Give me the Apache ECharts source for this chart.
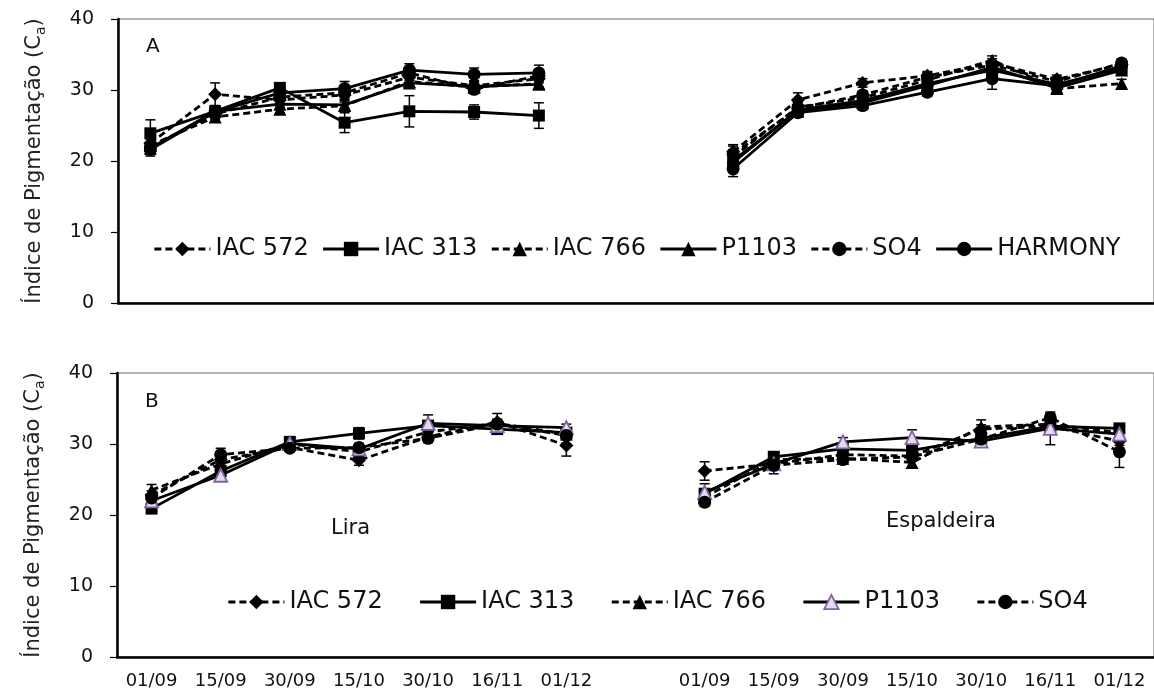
<!DOCTYPE html>
<html>
<head>
<meta charset="utf-8">
<title>Índice de Pigmentação</title>
<script src="https://cdn.jsdelivr.net/npm/echarts@6/dist/echarts.min.js"></script>
<style>
html, body { margin: 0; padding: 0; background: #fff; }
#chart { width: 1154px; height: 691px; }
</style>
</head>
<body>
<div id="chart"></div>
<script>
// datas de avaliação (mesmas para Lira e Espaldeira)
var datas = ['01/09', '15/09', '30/09', '15/10', '30/10', '16/11', '01/12'];
var yTicks = [0, 10, 20, 30, 40];

// ---- A : médias ----
var aLira572 = [22.5, 29.4, 28.6, 29.3, 31.8, 30.6, 31.6];
var aLira313 = [23.9, 27.0, 30.3, 25.4, 27.0, 26.9, 26.4];
var aLira766 = [22.2, 26.2, 27.3, 27.8, 31.2, 30.4, 30.9];
var aLiraP1103 = [21.8, 27.0, 28.0, 27.9, 31.0, 30.5, 30.8];
var aLiraSO4 = [22.0, 26.6, 29.0, 29.6, 32.4, 30.1, 32.0];
var aLiraHarmony = [21.6, 26.9, 29.6, 30.2, 32.8, 32.2, 32.4];

var aEsp572 = [21.3, 28.6, 31.0, 32.0, 33.8, 31.5, 33.6];
var aEsp313 = [19.8, 27.2, 28.5, 30.9, 32.8, 30.8, 33.0];
var aEsp766 = [20.6, 27.6, 28.9, 31.4, 34.2, 30.2, 30.9];
var aEspP1103 = [20.1, 27.0, 28.2, 30.6, 33.2, 30.3, 32.8];
var aEspSO4 = [21.0, 27.4, 29.3, 31.8, 33.5, 31.2, 33.8];
var aEspHarmony = [18.9, 26.8, 27.8, 29.7, 31.6, 30.6, 33.4];

// ---- A : erro padrão ----
var aLira572Err = [0.6, 1.6, 0.5, 0.6, 0.5, 0.6, 0.6];
var aLira313Err = [1.9, 0.8, 0.6, 1.4, 2.2, 1.0, 1.8];
var aLira766Err = [0.5, 0.6, 0.5, 0.5, 0.6, 0.5, 0.5];
var aLiraP1103Err = [0.6, 0.6, 0.5, 0.6, 0.6, 0.5, 0.5];
var aLiraSO4Err = [0.6, 0.7, 0.6, 0.7, 0.6, 0.6, 0.7];
var aLiraHarmonyErr = [0.9, 0.7, 0.5, 1.0, 0.9, 0.9, 1.1];

var aEsp572Err = [0.8, 1.0, 0.6, 0.6, 0.6, 0.6, 0.6];
var aEsp313Err = [0.6, 0.6, 0.5, 0.6, 0.6, 0.5, 0.6];
var aEsp766Err = [0.6, 0.6, 0.6, 0.6, 0.6, 0.6, 0.6];
var aEspP1103Err = [0.6, 0.5, 0.5, 0.5, 0.6, 0.5, 0.6];
var aEspSO4Err = [1.3, 0.6, 0.6, 0.7, 0.6, 0.6, 0.6];
var aEspHarmonyErr = [1.1, 0.6, 0.6, 0.6, 1.5, 0.6, 0.6];

// ---- B : médias ----
var bLira572 = [22.8, 27.8, 29.5, 27.7, 31.0, 33.1, 29.8];
var bLira313 = [20.9, 26.2, 30.3, 31.5, 32.6, 32.1, 31.6];
var bLira766 = [23.5, 27.2, 30.0, 28.9, 31.7, 32.9, 31.4];
var bLiraP1103 = [22.0, 25.6, 30.1, 29.3, 32.9, 32.6, 32.3];
var bLiraSO4 = [22.4, 28.5, 29.4, 29.5, 30.8, 32.8, 31.2];

var bEsp572 = [26.2, 27.2, 28.5, 28.3, 32.1, 32.5, 30.4];
var bEsp313 = [23.0, 28.2, 29.3, 29.1, 30.8, 32.5, 32.2];
var bEsp766 = [22.5, 27.8, 28.0, 27.4, 32.4, 32.8, 31.6];
var bEspP1103 = [23.2, 27.2, 30.3, 30.9, 30.4, 32.2, 31.4];
var bEspSO4 = [21.8, 27.0, 27.8, 28.2, 30.7, 33.7, 28.9];

// ---- B : erro padrão ----
var bLira572Err = [0.6, 0.6, 0.5, 0.7, 0.6, 1.2, 1.5];
var bLira313Err = [0.6, 0.6, 0.5, 0.8, 0.6, 0.6, 0.6];
var bLira766Err = [0.8, 0.6, 0.5, 0.5, 0.6, 0.6, 0.5];
var bLiraP1103Err = [0.6, 0.5, 0.5, 0.6, 1.2, 0.6, 0.5];
var bLiraSO4Err = [0.6, 0.9, 0.5, 0.6, 0.6, 0.6, 0.6];

var bEsp572Err = [1.3, 0.6, 0.6, 0.6, 0.6, 0.6, 0.6];
var bEsp313Err = [0.6, 0.6, 0.6, 0.6, 0.6, 0.6, 0.6];
var bEsp766Err = [0.6, 0.6, 0.6, 0.6, 1.0, 0.6, 0.6];
var bEspP1103Err = [1.2, 0.6, 0.6, 1.1, 0.6, 2.3, 0.6];
var bEspSO4Err = [0.6, 1.2, 0.6, 0.6, 0.6, 0.6, 2.2];

var FONT = "'DejaVu Sans', sans-serif";
var PURPLE = '#8064A2';

// categorias do eixo x: Lira, espaço vazio, Espaldeira
function buildCats(gap) {
  var c = datas.slice();
  for (var i = 0; i < gap; i++) c.push(' '.repeat(i + 1));
  return c.concat(datas);
}
// junta os dois sistemas com nulls no meio (quebra a linha)
function joinVals(lira, esp, gap) {
  var r = lira.slice();
  for (var i = 0; i < gap; i++) r.push(null);
  return r.concat(esp);
}
function errData(vals, errs) {
  var d = [];
  for (var i = 0; i < vals.length; i++) {
    if (vals[i] == null) continue;
    d.push([i, vals[i] - errs[i], vals[i] + errs[i]]);
  }
  return d;
}

function renderErr(params, api) {
  var x = api.value(0);
  var lo = api.coord([x, api.value(1)]);
  var hi = api.coord([x, api.value(2)]);
  var w = 5;
  var st = { stroke: '#000', lineWidth: 1.5 };
  return {
    type: 'group',
    children: [
      { type: 'line', shape: { x1: lo[0], y1: lo[1], x2: hi[0], y2: hi[1] }, style: st },
      { type: 'line', shape: { x1: hi[0] - w, y1: hi[1], x2: hi[0] + w, y2: hi[1] }, style: st },
      { type: 'line', shape: { x1: lo[0] - w, y1: lo[1], x2: lo[0] + w, y2: lo[1] }, style: st }
    ]
  };
}

var estilos = {
  'IAC 572': { dash: [7, 4], symbol: 'diamond', size: 14 },
  'IAC 313': { dash: 'solid', symbol: 'rect', size: 12 },
  'IAC 766': { dash: [7, 4], symbol: 'triangle', size: 13 },
  'P1103': { dash: 'solid', symbol: 'triangle', size: 13 },
  'SO4': { dash: [7, 4], symbol: 'circle', size: 13 },
  'HARMONY': { dash: 'solid', symbol: 'circle', size: 13 }
};

var series = [];
function addSeries(panel, name, lira, esp, errL, errE, gap, fill, border) {
  var vals = joinVals(lira, esp, gap);
  var errs = joinVals(errL, errE, gap);
  var e = estilos[name];
  series.push({
    name: 'erro ' + name,
    type: 'custom',
    xAxisIndex: panel, yAxisIndex: panel,
    renderItem: renderErr,
    encode: { x: 0, y: [1, 2] },
    data: errData(vals, errs),
    z: 1, silent: true
  });
  series.push({
    name: name,
    type: 'line',
    xAxisIndex: panel, yAxisIndex: panel,
    data: vals,
    symbol: e.symbol,
    symbolSize: e.size,
    showSymbol: true,
    lineStyle: { color: '#000', width: 2.8, type: e.dash },
    itemStyle: { color: fill || '#000', borderColor: border || '#000', borderWidth: border ? 1.8 : 0 },
    z: 2
  });
}

// painel A (gap de 2 categorias)
addSeries(0, 'IAC 572', aLira572, aEsp572, aLira572Err, aEsp572Err, 2);
addSeries(0, 'IAC 313', aLira313, aEsp313, aLira313Err, aEsp313Err, 2);
addSeries(0, 'IAC 766', aLira766, aEsp766, aLira766Err, aEsp766Err, 2);
addSeries(0, 'P1103', aLiraP1103, aEspP1103, aLiraP1103Err, aEspP1103Err, 2);
addSeries(0, 'SO4', aLiraSO4, aEspSO4, aLiraSO4Err, aEspSO4Err, 2);
addSeries(0, 'HARMONY', aLiraHarmony, aEspHarmony, aLiraHarmonyErr, aEspHarmonyErr, 2);
// painel B (gap de 1 categoria)
addSeries(1, 'IAC 572', bLira572, bEsp572, bLira572Err, bEsp572Err, 1);
addSeries(1, 'IAC 313', bLira313, bEsp313, bLira313Err, bEsp313Err, 1);
addSeries(1, 'IAC 766', bLira766, bEsp766, bLira766Err, bEsp766Err, 1);
addSeries(1, 'P1103', bLiraP1103, bEspP1103, bLiraP1103Err, bEspP1103Err, 1, '#e2dbec', PURPLE);
addSeries(1, 'SO4', bLiraSO4, bEspSO4, bLiraSO4Err, bEspSO4Err, 1);

function xAxis(idx, gap, showLabel) {
  return {
    type: 'category',
    gridIndex: idx,
    data: buildCats(gap),
    boundaryGap: true,
    axisLine: { lineStyle: { color: '#000', width: 2.5 } },
    axisTick: { alignWithLabel: true, interval: 0, length: 6, lineStyle: { color: '#000', width: 1.2 } },
    axisLabel: { show: showLabel, interval: 0, margin: 15, color: '#111', fontSize: 18, fontFamily: FONT },
    splitLine: { show: false }
  };
}
function yAxis(idx) {
  return {
    type: 'value',
    gridIndex: idx,
    min: yTicks[0], max: yTicks[yTicks.length - 1], interval: 10,
    name: '{m|Índice de Pigmentação (C}{s|a}{m|)}',
    nameLocation: 'middle',
    nameRotate: 90,
    nameGap: 70,
    nameTextStyle: {
      color: '#222', fontFamily: FONT,
      rich: {
        m: { fontSize: 21, lineHeight: 26, verticalAlign: 'middle', fontFamily: FONT, color: '#222' },
        s: { fontSize: 14, lineHeight: 13, verticalAlign: 'bottom', fontFamily: FONT, color: '#222' }
      }
    },
    axisLine: { show: true, lineStyle: { color: '#000', width: 2.5 } },
    axisTick: { show: true, length: 7, lineStyle: { color: '#000', width: 1.2 } },
    axisLabel: { margin: 24, color: '#111', fontSize: 19, fontFamily: FONT },
    splitLine: { show: false }
  };
}

function legendItems(names, purpleP1103) {
  return names.map(function (n) {
    if (n === 'P1103' && purpleP1103) {
      return { name: n, itemStyle: { color: '#e2dbec', borderColor: PURPLE, borderWidth: 1.8 } };
    }
    return { name: n };
  });
}

var titleStyle = { fontSize: 20, fontWeight: 'normal', color: '#111', fontFamily: FONT };

var chart = echarts.init(document.getElementById('chart'));
chart.setOption({
  animation: false,
  backgroundColor: '#fff',
  textStyle: { fontFamily: FONT },
  title: [
    { text: 'A', left: 146, top: 37, padding: 0, textStyle: titleStyle },
    { text: 'B', left: 145, top: 392, padding: 0, textStyle: titleStyle },
    { text: 'Lira', left: 331, top: 518, padding: 0, textStyle: { fontSize: 21, fontWeight: 'normal', color: '#111', fontFamily: FONT } },
    { text: 'Espaldeira', left: 886, top: 511, padding: 0, textStyle: { fontSize: 21, fontWeight: 'normal', color: '#111', fontFamily: FONT } }
  ],
  grid: [
    { left: 118, top: 19, width: 1046, height: 284, show: true, borderColor: '#666', borderWidth: 1 },
    { left: 117, top: 373, width: 1044, height: 284, show: true, borderColor: '#666', borderWidth: 1 }
  ],
  legend: [
    {
      data: legendItems(['IAC 572', 'IAC 313', 'IAC 766', 'P1103', 'SO4', 'HARMONY'], false),
      left: 153, top: 237, itemWidth: 56, itemHeight: 18, itemGap: 13,
      selectedMode: false, padding: 0,
      lineStyle: { width: 2.8 },
      textStyle: { fontSize: 24, color: '#111', fontFamily: FONT }
    },
    {
      data: legendItems(['IAC 572', 'IAC 313', 'IAC 766', 'P1103', 'SO4'], true),
      left: 227, top: 590, itemWidth: 56, itemHeight: 18, itemGap: 36,
      selectedMode: false, padding: 0,
      lineStyle: { width: 2.8 },
      textStyle: { fontSize: 24, color: '#111', fontFamily: FONT }
    }
  ],
  xAxis: [xAxis(0, 2, false), xAxis(1, 1, true)],
  yAxis: [yAxis(0), yAxis(1)],
  series: series
});
window.addEventListener('resize', function () { chart.resize(); });
</script>
</body>
</html>
